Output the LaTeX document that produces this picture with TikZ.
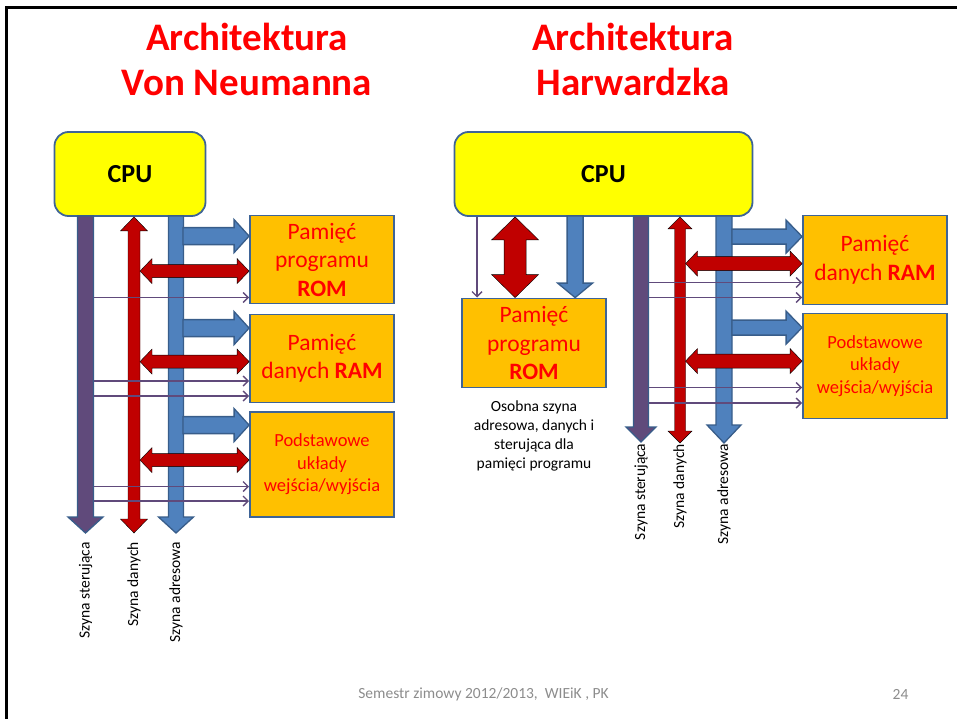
\documentclass[tikz,border=0pt]{standalone}
\usepackage{fontspec}
\setmainfont{Carlito}
\usetikzlibrary{calc,arrows.meta,positioning}

\begin{document}
\begin{tikzpicture}[
    % one unit = one pixel of the slide, y runs downwards
    x=1pt, y=-1pt,
    >={Straight Barb[length=5pt,width=10pt]},
    cpu/.style={draw=boxLine, line width=1.8pt, fill=cpuYellow, rounded corners=14pt, inner sep=0pt,
        font=\fontsize{26}{30}\selectfont\bfseries},
    mem/.style={draw=boxLine, line width=1.8pt, fill=memOrange, text=memText, align=center,
        inner sep=0pt, minimum width=144pt, font=\fontsize{23.5}{28.5}\selectfont},
    iotext/.style={font=\fontsize{18.5}{22.5}\selectfont},
    adrbus/.style={fill=adrBlue, draw=busLine, line width=1.3pt},
    ctlbus/.style={fill=ctlPurple, draw=busLine, line width=1.3pt},
    datbus/.style={fill=datRed},
    ctlline/.style={->, draw=ctlPurple, line width=1.4pt},
    buslabel/.style={rotate=90, anchor=east, inner sep=0pt, font=\fontsize{15.5}{18}\selectfont},
    title/.style={text=titleRed, align=center, font=\fontsize{39}{45}\selectfont\bfseries},
    footer/.style={text=footGray, font=\fontsize{15.5}{18}\selectfont}
    ]
    
    % Colors
    \definecolor{cpuYellow}{HTML}{FFFF00}
    \definecolor{memOrange}{HTML}{FFC000}
    \definecolor{memText}{HTML}{FF0000}
    \definecolor{titleRed}{HTML}{FF0000}
    \definecolor{boxLine}{HTML}{3E6497}
    \definecolor{busLine}{HTML}{385D8A}
    \definecolor{adrBlue}{HTML}{4F81BD}
    \definecolor{ctlPurple}{HTML}{604A7B}
    \definecolor{datRed}{HTML}{C00000}
    \definecolor{footGray}{HTML}{8C8C8C}
    
    % Block arrows: style, from, to, shaft half width, head half width, head length
    \def\blockarrow#1#2#3#4#5#6{%
        \coordinate (ba-a) at (#2);
        \coordinate (ba-b) at (#3);
        \coordinate (ba-h) at ($(ba-b)!#6!(ba-a)$);
        \filldraw[#1] ($(ba-a)!#4!90:(ba-b)$) -- ($(ba-h)!#4!90:(ba-b)$) -- ($(ba-h)!#5!90:(ba-b)$)
            -- (ba-b) -- ($(ba-h)!#5!-90:(ba-b)$) -- ($(ba-h)!#4!-90:(ba-b)$) -- ($(ba-a)!#4!-90:(ba-b)$) -- cycle;
    }
    \def\dblarrow#1#2#3#4#5#6{%
        \coordinate (da-a) at (#2);
        \coordinate (da-b) at (#3);
        \coordinate (da-ha) at ($(da-a)!#6!(da-b)$);
        \coordinate (da-hb) at ($(da-b)!#6!(da-a)$);
        \filldraw[#1] (da-a) -- ($(da-ha)!#5!90:(da-b)$) -- ($(da-ha)!#4!90:(da-b)$)
            -- ($(da-hb)!#4!90:(da-b)$) -- ($(da-hb)!#5!90:(da-b)$) -- (da-b)
            -- ($(da-hb)!#5!-90:(da-b)$) -- ($(da-hb)!#4!-90:(da-b)$)
            -- ($(da-ha)!#4!-90:(da-b)$) -- ($(da-ha)!#5!-90:(da-b)$) -- cycle;
    }
    
    \useasboundingbox (0,0) rectangle (957,719);
    
    % Slide frame
    \draw[line width=3pt] (6,719) -- (6,7.5) -- (957,7.5);
    
    % Titles
    \node[title] (titleL) at (247,59) {Architektura\\Von Neumanna};
    \node[title] (titleR) at (633,59) {Architektura\\Harwardzka};
    
    % ---------------- Von Neumann ----------------
    \node[cpu, minimum width=151pt, minimum height=84pt] (cpuL) at (130,174) {CPU};
    \node[mem, minimum height=88pt] (romL) at (322,259.5) {Pamięć\\programu\\\textbf{ROM}};
    \node[mem, minimum height=88pt] (ramL) at (322,358.5) {Pamięć\\danych \textbf{RAM}};
    \node[mem, iotext, minimum height=105pt] (ioL) at (322,464.5) {Podstawowe\\układy\\wejścia/wyjścia};
    
    % Bus ends
    \coordinate (ctlL) at (85.5,533);
    \coordinate (datL) at (134,533);
    \coordinate (adrL) at (176,533);
    
    % Buses
    \blockarrow{ctlbus}{$(cpuL.south -| ctlL)+(0,-1)$}{ctlL}{8pt}{17.5pt}{16pt}
    \dblarrow{datbus}{cpuL.south -| datL}{datL}{6pt}{13.5pt}{14pt}
    \blockarrow{adrbus}{$(cpuL.south -| adrL)+(0,-1)$}{adrL}{7.5pt}{17.5pt}{16pt}
    
    % Address and data lines to the memories
    \foreach \memnode/\da/\dd in {romL/21.5/56.5, ramL/14.5/48, ioL/14/49}{
        \coordinate (ea) at ([yshift=-\da pt]\memnode.north west);
        \coordinate (ed) at ([yshift=-\dd pt]\memnode.north west);
        \blockarrow{adrbus}{$(adrL |- ea)+(7,0)$}{ea}{8.5pt}{16.5pt}{15pt}
        \dblarrow{datbus}{$(datL |- ed)+(6,0)$}{ed}{6.5pt}{12.5pt}{12pt}
    }
    % Control lines
    \foreach \memnode/\dy in {romL/83, ramL/67.5, ramL/82.5, ioL/75.5, ioL/90}{
        \coordinate (et) at ([yshift=-\dy pt]\memnode.north west);
        \draw[ctlline] ($(ctlL |- et)+(8,0)$) -- (et);
    }
    
    \node[buslabel] (ctlLlab) at ([yshift=-9pt]ctlL) {Szyna sterująca};
    \node[buslabel] (datLlab) at ([yshift=-9pt]datL) {Szyna danych};
    \node[buslabel] (adrLlab) at ([yshift=-9pt]adrL) {Szyna adresowa};
    
    % ---------------- Harvard ----------------
    \node[cpu, minimum width=298pt, minimum height=84pt] (cpuR) at (603.5,174) {CPU};
    \node[mem, minimum height=89pt] (romR) at (534,343) {Pamięć\\programu\\\textbf{ROM}};
    \node[mem, minimum height=89pt] (ramR) at (875,260) {Pamięć\\danych \textbf{RAM}};
    \node[mem, iotext, minimum height=105pt] (ioR) at (875,366) {Podstawowe\\układy\\wejścia/wyjścia};
    
    % Separate program memory buses
    \coordinate (romRc) at ([xshift=16pt]romR.north west);
    \coordinate (romRd) at ([xshift=54pt]romR.north west);
    \coordinate (romRa) at ([xshift=114pt]romR.north west);
    \draw[ctlline] (cpuR.south -| romRc) -- (romRc);
    \dblarrow{datbus}{cpuR.south -| romRd}{romRd}{11pt}{23.5pt}{23pt}
    \blockarrow{adrbus}{$(cpuR.south -| romRa)+(0,-1)$}{romRa}{8pt}{17.5pt}{14.5pt}
    
    \node[align=center, inner sep=0pt, font=\fontsize{15.5}{19}\selectfont, below=12pt of romR] (romNote)
        {Osobna szyna\\adresowa, danych i\\sterująca dla\\pamięci programu};
    
    % Bus ends
    \coordinate (ctlR) at (641,442);
    \coordinate (datR) at (680,443);
    \coordinate (adrR) at (724,443);
    
    % Buses
    \blockarrow{ctlbus}{$(cpuR.south -| ctlR)+(0,-1)$}{ctlR}{7.5pt}{15pt}{15pt}
    \dblarrow{datbus}{cpuR.south -| datR}{datR}{5.5pt}{12pt}{12pt}
    \blockarrow{adrbus}{$(cpuR.south -| adrR)+(0,-1)$}{adrR}{8pt}{17pt}{18pt}
    
    \foreach \memnode/\da/\dd in {ramR/22/49, ioR/15/48.5}{
        \coordinate (ea) at ([yshift=-\da pt]\memnode.north west);
        \coordinate (ed) at ([yshift=-\dd pt]\memnode.north west);
        \blockarrow{adrbus}{$(adrR |- ea)+(8,0)$}{ea}{7.5pt}{16.5pt}{16pt}
        \dblarrow{datbus}{$(datR |- ed)+(5.5,0)$}{ed}{7pt}{12.5pt}{12pt}
    }
    \foreach \memnode/\dy in {ramR/68, ramR/83, ioR/75, ioR/90.5}{
        \coordinate (et) at ([yshift=-\dy pt]\memnode.north west);
        \draw[ctlline] ($(ctlR |- et)+(7.5,0)$) -- (et);
    }
    
    \node[buslabel] (ctlRlab) at ([yshift=-1.5pt]ctlR) {Szyna sterująca};
    \node[buslabel] (datRlab) at ([yshift=-1pt]datR) {Szyna danych};
    \node[buslabel] (adrRlab) at ([yshift=-1pt]adrR) {Szyna adresowa};
    
    % Footer
    \node[footer] (foot) at (483.5,694) {Semestr zimowy 2012/2013,\ \ WIEiK , PK};
    \node[footer] (page) at (900.5,694) {24};
\end{tikzpicture}
\end{document}
